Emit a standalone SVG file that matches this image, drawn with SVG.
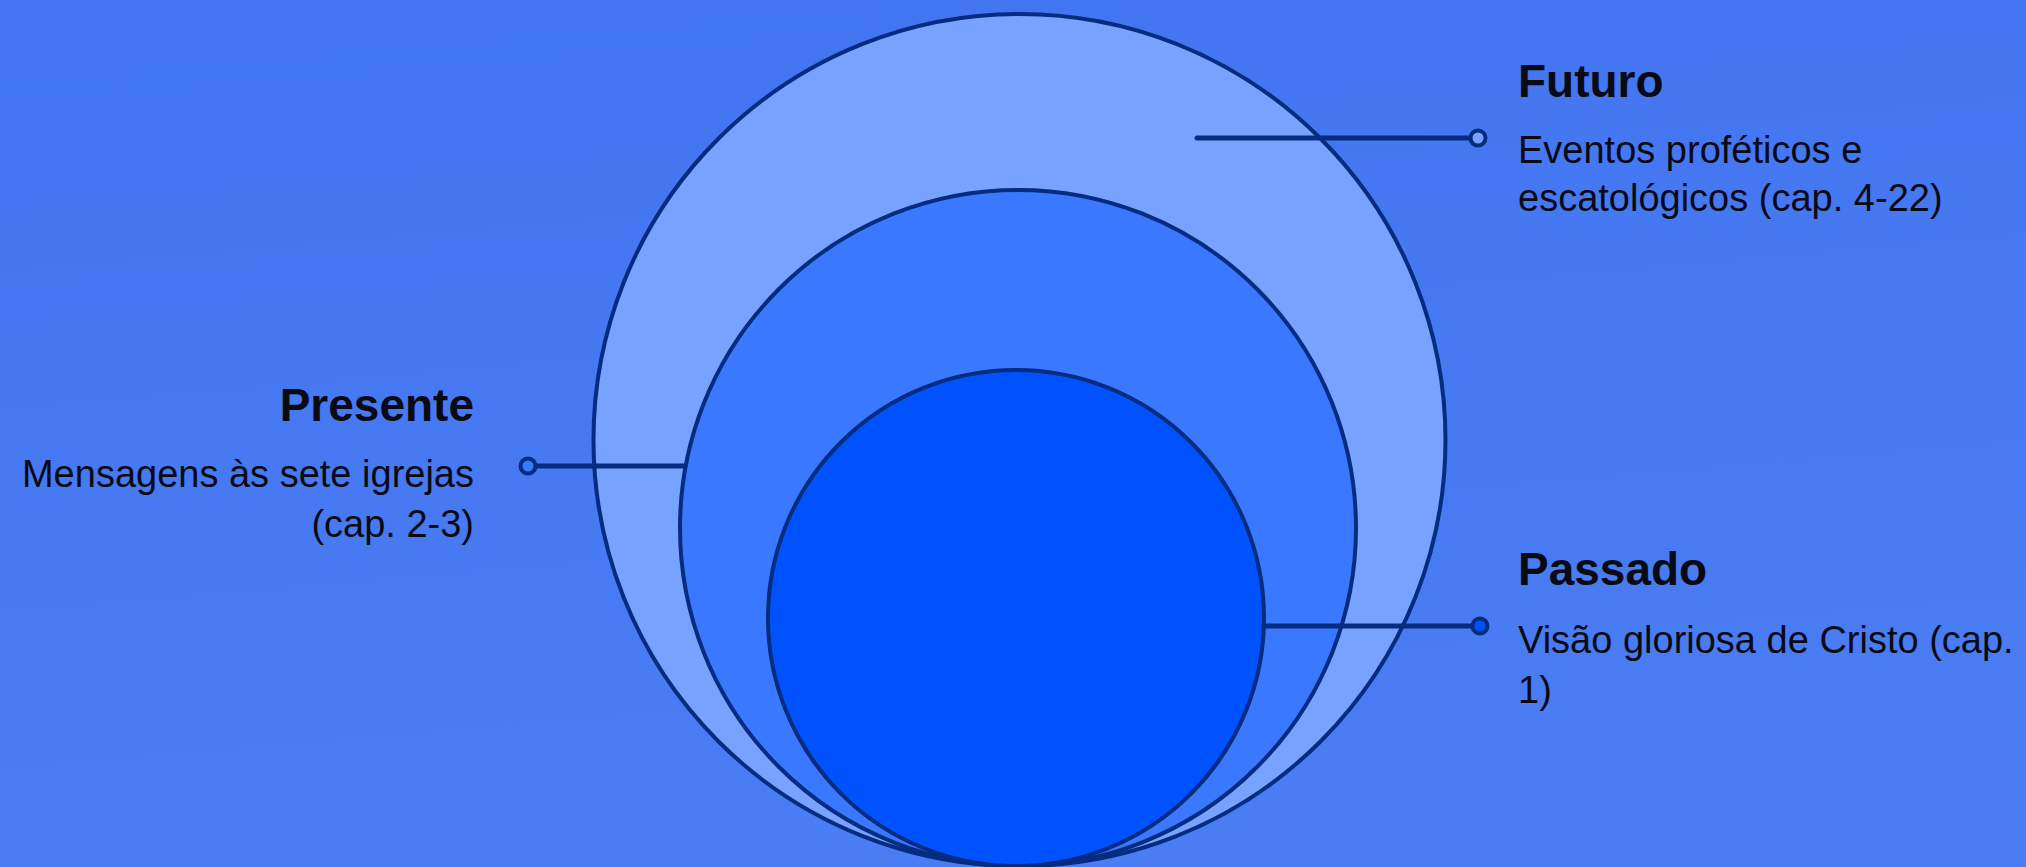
<svg xmlns="http://www.w3.org/2000/svg" width="2026" height="867" viewBox="0 0 2026 867">
  <defs>
    <linearGradient id="bg" x1="0" y1="0" x2="0.2" y2="1">
      <stop offset="0" stop-color="#4274F0"/>
      <stop offset="1" stop-color="#4A7DF3"/>
    </linearGradient>
  </defs>
  <style>
    .ring { stroke: #062C80; stroke-width: 4; }
    .conn { stroke: #062C80; stroke-width: 5; stroke-linecap: round; fill: none; }
    .dot { stroke: #062C80; stroke-width: 4; }
    .title { font-family: "Liberation Sans", Arial, sans-serif; font-weight: 700; font-size: 46px; fill: #0A0A14; }
    .desc { font-family: "Liberation Sans", Arial, sans-serif; font-weight: 400; font-size: 38px; fill: #0A0A14; }
  </style>
  <rect x="0" y="0" width="2026" height="867" fill="url(#bg)"/>

  <g id="futuro-circle">
    <circle class="ring" cx="1019.5" cy="440" r="426" fill="#77A3FF"/>
  </g>
  <g id="presente-circle">
    <circle class="ring" cx="1018" cy="528" r="338" fill="#3A78FF"/>
  </g>
  <g id="passado-circle">
    <circle class="ring" cx="1016" cy="618" r="248" fill="#0052FF"/>
  </g>

  <g id="connectors">
    <line class="conn" x1="1197" y1="138" x2="1470" y2="138"/>
    <circle class="dot" cx="1478" cy="138" r="7.5" fill="#77A3FF"/>
    <line class="conn" x1="536" y1="466" x2="684" y2="466" stroke-linecap="butt"/>
    <circle class="dot" cx="528" cy="466" r="7.5" fill="#3A78FF"/>
    <line class="conn" x1="1264" y1="626" x2="1472" y2="626" stroke-linecap="butt"/>
    <circle class="dot" cx="1480" cy="626" r="7.5" fill="#0052FF"/>
  </g>

  <g id="futuro-label">
    <text class="title" x="1518" y="97">Futuro</text>
    <text class="desc" x="1518" y="163">Eventos proféticos e</text>
    <text class="desc" x="1518" y="211">escatológicos (cap. 4-22)</text>
  </g>
  <g id="presente-label">
    <text class="title" x="474" y="421" text-anchor="end">Presente</text>
    <text class="desc" x="474" y="487" text-anchor="end">Mensagens às sete igrejas</text>
    <text class="desc" x="474" y="537" text-anchor="end">(cap. 2-3)</text>
  </g>
  <g id="passado-label">
    <text class="title" x="1518" y="585">Passado</text>
    <text class="desc" x="1518" y="653">Visão gloriosa de Cristo (cap.</text>
    <text class="desc" x="1518" y="703">1)</text>
  </g>
</svg>
